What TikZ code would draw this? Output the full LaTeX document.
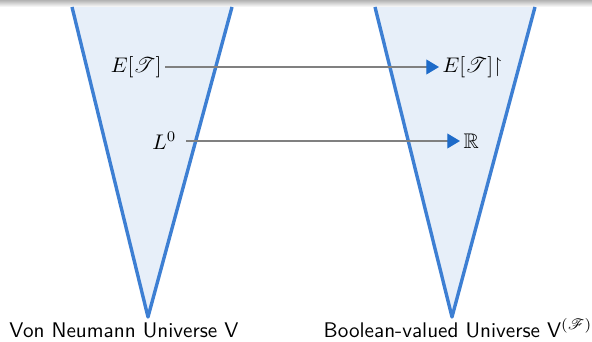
\documentclass[tikz,border=0pt]{standalone}
\definecolor{UniverseBlue}{HTML}{3D7FD3}
\definecolor{UniverseFill}{HTML}{E7EFF9}
\definecolor{ArrowBlue}{HTML}{1E6BC9}
\usepackage{amsmath, amssymb, mathrsfs}
\usepackage{tikz}
\usetikzlibrary{arrows.meta, positioning, calc}

\begin{document}
\begin{tikzpicture}[x=0.0166cm, y=-0.0166cm,
    universe/.style={draw=UniverseBlue, fill=UniverseFill, line width=1.6pt, line join=round},
    conn/.style={draw=gray, line width=0.6pt, -{Triangle[length=6pt, width=7pt, color=ArrowBlue]}},
    lbl/.style={font=\sffamily, inner sep=0pt}]
  \useasboundingbox (0,0) rectangle (592,342);
  % header shadow
  \shade[top color=gray!60, bottom color=white] (0,0) rectangle (592,7);
  % the two universes
  \coordinate (vtip) at (148,317);
  \coordinate (btip) at (452,317);
  \filldraw[universe] (72,7) -- (vtip) -- (232,7);
  \filldraw[universe] (375,7) -- (btip) -- (535,7);
  % objects
  \node[anchor=east, inner sep=1.5pt] (ET) at (165,67) {$E[\mathscr{T}]$};
  \node[anchor=west, inner sep=1.5pt] (ETr) at (439,67) {$E[\mathscr{T}]{\upharpoonright}$};
  \node[anchor=east, inner sep=1.5pt] (L0) at (180,141) {$L^0$};
  \node[anchor=west, inner sep=1.5pt] (R) at (460,141) {$\mathbb{R}$};
  \draw[conn] (ET.east) -- (ETr.west);
  \draw[conn, shorten <=3pt] (L0.east) -- (R.west);
  % names
  \node[lbl] (vname) at (124,330) {Von Neumann Universe V};
  \node[lbl] (bname) at (458,328) {Boolean-valued Universe V$^{(\mathscr{F})}$};
\end{tikzpicture}
\end{document}
